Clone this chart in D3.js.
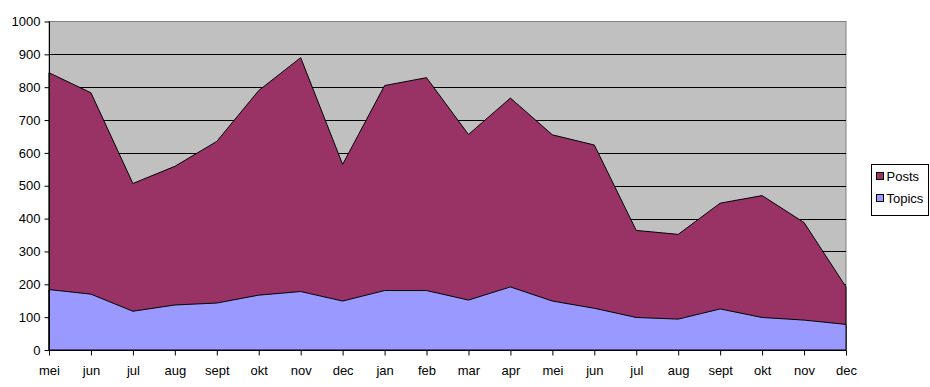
<!DOCTYPE html>
<html>
<head>
<meta charset="utf-8">
<script src="https://cdn.jsdelivr.net/npm/d3@7"></script>
<style>
  body { margin: 0; background: #fff; }
  svg { display: block; font-family: Arial, "Liberation Sans", sans-serif; }
</style>
</head>
<body>
<script>
const months = ["mei", "jun", "jul", "aug", "sept", "okt", "nov", "dec", "jan", "feb",
  "mar", "apr", "mei", "jun", "jul", "aug", "sept", "okt", "nov", "dec"];
const posts = [844, 783, 507, 559, 635, 790, 890, 565, 805, 829,
  656, 767, 655, 624, 364, 352, 447, 470, 388, 192];
const topics = [184, 170, 118, 137, 143, 167, 178, 149, 181, 181,
  152, 192, 149, 127, 99, 94, 125, 99, 91, 78];
const yTicks = [0, 100, 200, 300, 400, 500, 600, 700, 800, 900, 1000];
const seriesNames = ["Posts", "Topics"];
const colors = { Posts: "#993366", Topics: "#9999FF" };

const w = 930, h = 387;
const plotL = 49, plotR = 846, plotT = 21.5, plotB = 350;
const fontSize = "13px";

const svg = d3.select("body").append("svg").attr("width", w).attr("height", h);

const x = d3.scalePoint().domain(d3.range(months.length)).range([plotL, plotR]);
const y = d3.scaleLinear().domain([0, 1000]).range([plotB, plotT]);

// plot background
svg.append("rect")
  .attr("x", plotL).attr("y", plotT)
  .attr("width", plotR - plotL).attr("height", plotB - plotT)
  .attr("fill", "#C0C0C0").attr("stroke", "#808080").attr("stroke-width", 1);

// gridlines
svg.append("g")
  .selectAll("line")
  .data(yTicks.filter((d) => d > 0 && d < 1000))
  .enter()
  .append("line")
  .attr("x1", plotL).attr("x2", plotR)
  .attr("y1", (d) => Math.round(y(d)) + 0.5)
  .attr("y2", (d) => Math.round(y(d)) + 0.5)
  .attr("stroke", "#000").attr("stroke-width", 1);

const area = (vals) => d3.area()
  .x((d, i) => x(i))
  .y0(y(0))
  .y1((d) => y(d))(vals);

svg.append("path").attr("d", area(posts))
  .attr("fill", colors.Posts).attr("stroke", "#000").attr("stroke-width", 1);
svg.append("path").attr("d", area(topics))
  .attr("fill", colors.Topics).attr("stroke", "#000").attr("stroke-width", 1);

// y axis
const yAxis = d3.axisLeft(y).tickValues(yTicks).tickFormat(d3.format("d"))
  .tickSize(5).tickPadding(4);
const gy = svg.append("g").attr("transform", `translate(${plotL + 0.5},0)`).call(yAxis);
gy.select(".domain").attr("stroke", "#000").attr("d", `M0,${plotT}V${plotB + 0.5}`);
gy.selectAll("text").attr("font-size", fontSize).attr("fill", "#000")
  .attr("font-family", "Arial, 'Liberation Sans', sans-serif");

// x axis
const xAxis = d3.axisBottom(x).tickFormat((i) => months[i]).tickSize(5).tickPadding(10);
const gx = svg.append("g").attr("transform", `translate(0,${plotB + 0.5})`).call(xAxis);
gx.select(".domain").attr("stroke", "#000").attr("d", `M${plotL},0H${plotR + 0.5}`);
gx.selectAll("text").attr("font-size", fontSize).attr("fill", "#000")
  .attr("font-family", "Arial, 'Liberation Sans', sans-serif");

// legend
const lg = svg.append("g").attr("transform", "translate(871.5,164.5)");
lg.append("rect").attr("width", 57).attr("height", 51)
  .attr("fill", "#fff").attr("stroke", "#000");
seriesNames.forEach((name, i) => {
  lg.append("rect").attr("x", 5).attr("y", 8 + i * 22).attr("width", 7).attr("height", 7)
    .attr("fill", colors[name]).attr("stroke", "#000");
  lg.append("text").attr("x", 15).attr("y", 16 + i * 22)
    .attr("font-size", fontSize).text(name);
});
</script>
</body>
</html>
